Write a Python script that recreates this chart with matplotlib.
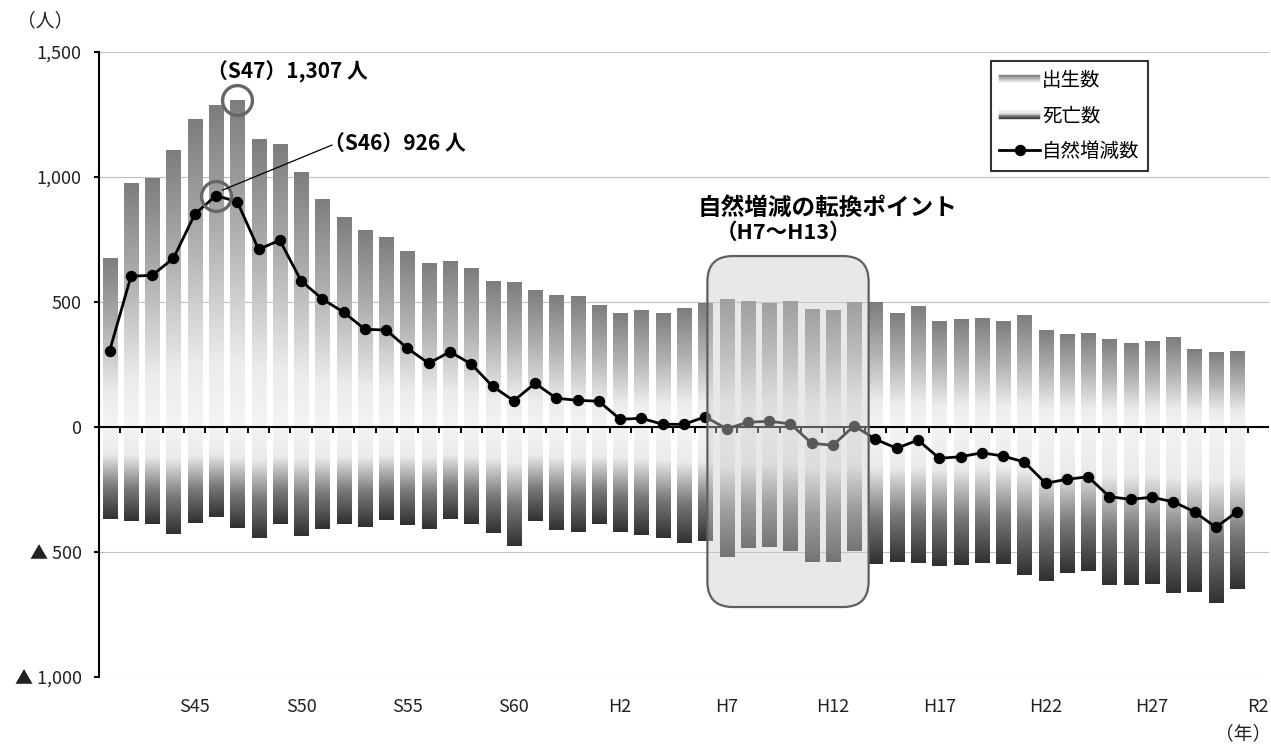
import numpy as np
import matplotlib
matplotlib.use('Agg')
from matplotlib import pyplot as plt
from matplotlib.colors import LinearSegmentedColormap
from matplotlib.legend_handler import HandlerBase
from matplotlib.lines import Line2D
from matplotlib.patches import FancyBboxPatch, Patch, Rectangle

plt.rcParams['font.family'] = ['Noto Sans CJK JP', 'DejaVu Sans']

# S41 (1966) .. R1 (2019), one bar per year; R2 is an empty slot at the right end
births = [675, 975, 995, 1105, 1230, 1285, 1307, 1152, 1132, 1018,
          912, 840, 788, 757, 703, 656, 664, 635, 582, 577,
          547, 527, 523, 487, 453, 465, 453, 473, 495, 512,
          503, 495, 501, 469, 465, 497, 499, 453, 484, 424,
          429, 433, 424, 448, 387, 371, 375, 351, 335, 343,
          359, 312, 297, 304]
deaths = [369, 375, 388, 429, 383, 360, 403, 445, 387, 437,
          407, 388, 399, 372, 391, 407, 368, 388, 425, 476,
          375, 413, 421, 387, 421, 433, 444, 464, 456, 521,
          484, 480, 497, 541, 541, 497, 549, 540, 545, 555,
          551, 544, 547, 593, 617, 583, 577, 632, 632, 628,
          664, 660, 703, 647]
natural = [305, 603, 607, 675, 851, 926, 901, 711, 747, 585,
           512, 459, 391, 388, 315, 255, 301, 252, 163, 105,
           175, 115, 107, 103, 31, 35, 11, 11, 41, -7,
           19, 23, 13, -65, -73, 5, -49, -85, -52, -125,
           -119, -103, -116, -140, -225, -209, -199, -279, -289, -281,
           -299, -339, -401, -339]

tick_pos = [4, 9, 14, 19, 24, 29, 34, 39, 44, 49, 54]
tick_labels = ['S45', 'S50', 'S55', 'S60', 'H2', 'H7', 'H12', 'H17', 'H22', 'H27', 'R2']
y_ticks = [-1000, -500, 0, 500, 1000, 1500]
y_labels = ['▲ 1,000', '▲ 500', '0', '500', '1,000', '1,500']

births_cmap = LinearSegmentedColormap.from_list(
    'births', [(0, '#f4f4f4'), (0.2, '#ececec'), (0.6, '#b0b0b0'), (1, '#7d7d7d')])
deaths_cmap = LinearSegmentedColormap.from_list(
    'deaths', [(0, '#f3f3f3'), (0.3, '#ebebeb'), (0.65, '#7a7a7a'), (1, '#303030')])


class GradientHandler(HandlerBase):
    # legend key drawn as a stack of thin strips
    def __init__(self, cmap, flip=False):
        super().__init__()
        self.cmap = cmap
        self.flip = flip

    def create_artists(self, legend, orig_handle, xdescent, ydescent,
                       width, height, fontsize, trans):
        n = 10
        h = height * 0.6
        y0 = -ydescent + (height - h) / 2
        arts = []
        for k in range(n):
            t = (k + 0.5) / n
            c = self.cmap(1 - t if self.flip else t)
            arts.append(Rectangle((-xdescent, y0 + k * h / n), width, h / n,
                                  facecolor=c, edgecolor=c, lw=0.3, transform=trans))
        return arts


fig = plt.figure(figsize=(12.71, 7.49), dpi=100)
ax = fig.add_axes([0.0779, 0.0961, 0.9205, 0.8344])

x = np.arange(len(births))
w = 0.66
grad = np.linspace(0, 1, 256).reshape(-1, 1)

for xi, b, d in zip(x, births, deaths):
    ax.imshow(grad, cmap=births_cmap, origin='lower', aspect='auto',
              extent=(xi - w / 2, xi + w / 2, 0, b), interpolation='bilinear', zorder=2)
    ax.imshow(grad, cmap=deaths_cmap, origin='upper', aspect='auto',
              extent=(xi - w / 2, xi + w / 2, -d, 0), interpolation='bilinear', zorder=2)

# zero line with category boundary ticks
ax.axhline(0, color='black', lw=1.5, zorder=3)
bounds = np.arange(0.5, 54, 1)
ax.plot(bounds, np.zeros_like(bounds), ls='none', marker=3, markersize=4.3,
        markeredgewidth=1.5, color='black', zorder=3)

ax.plot(x, natural, color='black', lw=2, marker='o', markersize=7.2, zorder=4)

# turning point box (H7-H13)
box = FancyBboxPatch((28.1, -720), 35.68 - 28.1, 684 + 720,
                     boxstyle='round,pad=0,rounding_size=1.2', mutation_aspect=85,
                     facecolor=(0.8, 0.8, 0.8, 0.44), edgecolor='#5f5f5f', lw=1.6, zorder=5)
ax.add_patch(box)
ax.text(33.76, 876, '自然増減の転換ポイント', ha='center', va='center',
        fontsize=17, fontweight='bold', zorder=6)
ax.text(31.69, 780, '（H7～H13）', ha='center', va='center',
        fontsize=15.5, fontweight='bold', zorder=6)

# peak markers
ax.plot([6], [births[6]], marker='o', markersize=21.5, markerfacecolor='none',
        markeredgecolor='#666666', markeredgewidth=2.4, zorder=6)
ax.plot([5], [natural[5]], marker='o', markersize=21.5, markerfacecolor='none',
        markeredgecolor='#666666', markeredgewidth=2.4, zorder=6)
ax.text(4.6, 1420, '（S47）1,307 人', ha='left', va='center',
        fontsize=15, fontweight='bold', zorder=6)
ax.plot([5.31, 10.45], [948, 1128], color='black', lw=0.9, zorder=6)
ax.text(10.1, 1136, '（S46）926 人', ha='left', va='center',
        fontsize=15, fontweight='bold', zorder=6)

ax.set_xlim(-0.5, 54.5)
ax.set_ylim(-1000, 1500)
ax.set_xticks(tick_pos)
ax.set_xticklabels(tick_labels, fontsize=13, color='#222222')
ax.tick_params(axis='x', length=0, pad=15)
ax.set_yticks(y_ticks)
ax.set_yticklabels(y_labels, fontsize=13, color='#222222')
ax.tick_params(axis='y', direction='out', length=3.6, width=1.5, pad=9)
ax.yaxis.grid(True, color='#c0c0c0', lw=0.8)
ax.set_axisbelow(True)
for s in ['top', 'right', 'bottom']:
    ax.spines[s].set_visible(False)
ax.spines['left'].set_linewidth(1.5)

births_handle = Patch()
deaths_handle = Patch()
natural_handle = Line2D([], [], color='black', lw=2, marker='o', markersize=7.2)
leg = ax.legend([births_handle, deaths_handle, natural_handle], ['出生数', '死亡数', '自然増減数'],
                handler_map={births_handle: GradientHandler(births_cmap),
                             deaths_handle: GradientHandler(deaths_cmap, flip=True)},
                loc='upper right', bbox_to_anchor=(0.897, 0.9856), fontsize=14,
                frameon=True, fancybox=False, handlelength=2.1, handletextpad=0.1,
                labelspacing=0.75, borderpad=0.45, borderaxespad=0)
leg.get_frame().set_edgecolor('black')
leg.get_frame().set_linewidth(1.5)
leg.set_zorder(10)

fig.text(0.0354, 0.972, '（人）', ha='center', va='center', fontsize=13.5, color='#222222')
fig.text(0.978, 0.021, '（年）', ha='center', va='center', fontsize=13.5, color='#222222')

fig.savefig('out.png', dpi=100)
